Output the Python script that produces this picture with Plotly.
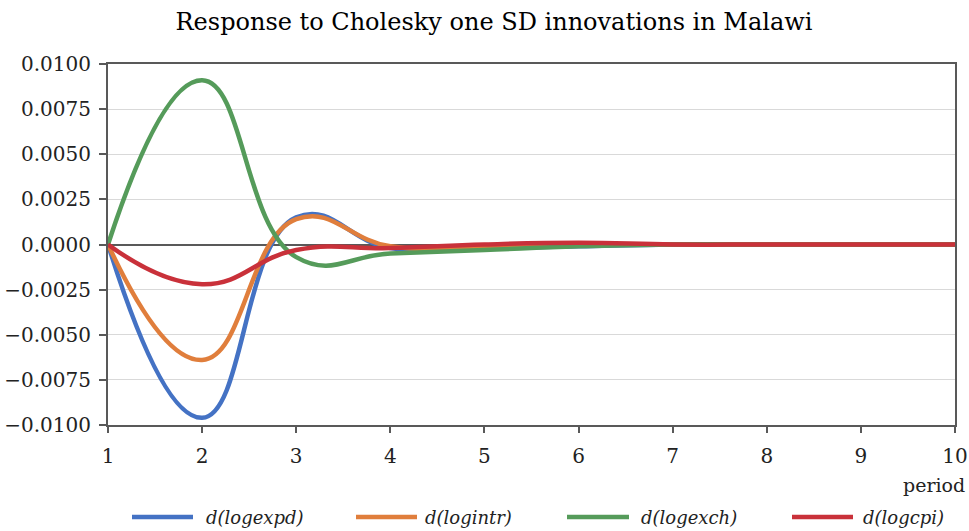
import plotly.graph_objects as go

periods = [1, 2, 3, 4, 5, 6, 7, 8, 9, 10]
expd = [0.0, -0.0096, 0.0015, -0.0002, -0.0002, -0.0001, 0.0000, 0.0000, 0.0000, 0.0000]
intr = [0.0, -0.0064, 0.0014, -0.0001, -0.0001, 0.0000, 0.0000, 0.0000, 0.0000, 0.0000]
exch = [0.0, 0.0091, -0.0007, -0.0005, -0.0003, -0.0001, 0.0000, 0.0000, 0.0000, 0.0000]
cpi = [0.0, -0.0022, -0.0003, -0.0002, 0.0000, 0.0001, 0.0000, 0.0000, 0.0000, 0.0000]

names = ["d(logexpd)", "d(logintr)", "d(logexch)", "d(logcpi)"]
colors = ["#4472C4", "#E07E3C", "#559B5A", "#C9313A"]
series = [expd, intr, exch, cpi]

FONT = "DejaVu Serif"

fig = go.Figure()
for name, vals, col in zip(names, series, colors):
    fig.add_trace(go.Scatter(
        x=periods, y=vals, name=name, mode="lines",
        line=dict(color=col, width=4.5, shape="spline", smoothing=1.3),
        showlegend=False,
    ))

# custom legend (long line samples, italic labels)
leg_y = -0.255
leg_lines = [(132, 193, 204), (356, 417, 423), (567, 629, 639), (792, 853, 861)]
L, W = 108, 847
for (x0, x1, xt), name, col in zip(leg_lines, names, colors):
    fig.add_shape(type="line", xref="paper", yref="paper",
                  x0=(x0 - L) / W, x1=(x1 - L) / W, y0=leg_y, y1=leg_y,
                  line=dict(color=col, width=4.5))
    fig.add_annotation(xref="paper", yref="paper", x=(xt - L) / W, y=leg_y,
                       xanchor="left", yanchor="middle", showarrow=False,
                       text="<i>" + name + "</i>",
                       font=dict(family=FONT, size=18, color="#222"))

fig.add_annotation(xref="paper", yref="paper", x=(967 - L) / W, y=-0.165,
                   xanchor="right", yanchor="middle", showarrow=False,
                   text="period", font=dict(family=FONT, size=19, color="#222"))

fig.update_layout(
    width=969, height=531,
    margin=dict(l=108, r=14, t=64, b=106, autoexpand=False),
    paper_bgcolor="white", plot_bgcolor="white",
    title=dict(text="Response to Cholesky one SD innovations in Malawi",
               x=494 / 969, xanchor="center", xref="container",
               y=1 - 22 / 531, yanchor="middle", yref="container",
               font=dict(family=FONT, size=24, color="#000")),
    font=dict(family=FONT, size=20, color="#222"),
)
fig.update_xaxes(range=[1, 10], tickmode="linear", tick0=1, dtick=1,
                 showgrid=False, zeroline=False, automargin=False,
                 showline=True, linecolor="#595959", linewidth=2, mirror=True,
                 ticks="outside", ticklen=6, tickcolor="#595959", tickwidth=1.5,
                 ticklabelstandoff=6)
fig.update_yaxes(range=[-0.01, 0.01], tickmode="linear", tick0=-0.01, dtick=0.0025,
                 tickformat=".4f", automargin=False,
                 showgrid=True, gridcolor="#D9D9D9", gridwidth=1,
                 zeroline=True, zerolinecolor="#595959", zerolinewidth=1.5,
                 showline=True, linecolor="#595959", linewidth=2, mirror=True,
                 ticks="outside", ticklen=7, tickcolor="#595959", tickwidth=1.5,
                 ticklabelstandoff=4)

fig.write_html("out.html")
